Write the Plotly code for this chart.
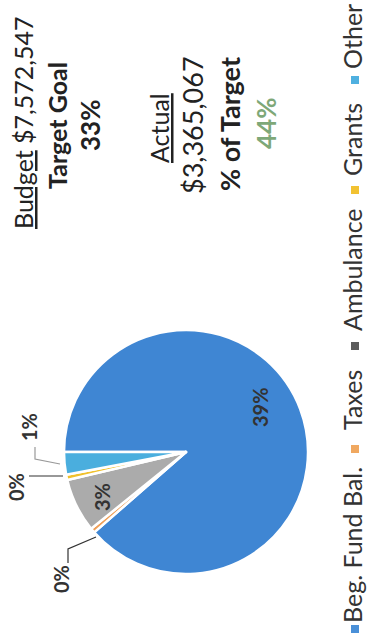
import plotly.graph_objects as go

# ---- data ----
categories = ["Beg. Fund Bal.", "Taxes", "Ambulance", "Grants", "Other"]
actual_values = [2980000, 21000, 240000, 24000, 100067]
budget_total = 7572547
actual_total = 3365067
target_goal_pct = 33
slice_colors = ["#3f86d3", "#ef9f58", "#ababab", "#f0c12c", "#4aaede"]
legend_colors = ["#4a90d8", "#f0a860", "#5c5c5c", "#f2c232", "#4fb0e0"]

W, H = 369, 634
FONT = "Lato"


def px(x):
    return x / W


def py(y):
    return 1 - y / H


pct_labels = [f"{round(v / budget_total * 100)}%" for v in actual_values]
pct_of_target = round(actual_total / budget_total * 100)

fig = go.Figure()
cx, cy, r = 186, 452, 122
fig.add_trace(go.Pie(
    labels=categories,
    values=actual_values,
    sort=False,
    direction="clockwise",
    rotation=270,
    textinfo="none",
    hoverinfo="label+value",
    marker=dict(colors=slice_colors, line=dict(color="white", width=2.5)),
    domain=dict(x=[px(cx - r), px(cx + r)], y=[py(cy + r), py(cy - r)]),
    showlegend=False,
))

ann = []


def text(x, y, s, size, color="#222", bold=False, xa="center", ya="middle"):
    if bold:
        s = f"<b>{s}</b>"
    ann.append(dict(x=px(x), y=py(y), xref="paper", yref="paper", text=s,
                    showarrow=False, textangle=-90, xanchor=xa, yanchor=ya,
                    font=dict(family=FONT, size=size, color=color)))


# header block
text(23, 123, f"<u>Budget</u> ${budget_total:,}", 25)
text(57, 126, "Target Goal", 25, bold=True)
text(90, 126, f"{target_goal_pct}%", 26, bold=True)
text(159, 128, "<u>Actual</u>", 25)
text(192, 125, f"${actual_total:,}", 27)
text(229, 124, "% of Target", 27, bold=True)
text(266, 124, f"{pct_of_target}%", 26, color="#7ea878", bold=True)

# pie labels
label_pos = [(260, 407), (61, 579), (102, 497), (16, 487), (29, 427)]
for (x, y), lab in zip(label_pos, pct_labels):
    text(x, y, lab, 20, color="#333", bold=True)

shapes = []


def seg(pts, color="#333", width=1.2):
    path = "M " + " L ".join(f"{px(a)},{py(b)}" for a, b in pts)
    shapes.append(dict(type="path", path=path, xref="paper", yref="paper",
                       line=dict(color=color, width=width)))


seg([(29, 476), (63, 476)])
seg([(35, 447), (35, 459), (60, 464)], color="#999")
seg([(68, 563), (68, 549), (96, 537)])

# legend (rotated)
legend_sq_y = [629, 449, 346, 190, 80]
legend_txt_y = [545, 400, 270, 140, 37]
for name, col, sy, ty in zip(categories, legend_colors, legend_sq_y, legend_txt_y):
    shapes.append(dict(type="rect", xref="paper", yref="paper",
                       x0=px(351), x1=px(359), y0=py(sy + 4), y1=py(sy - 4),
                       fillcolor=col, line=dict(width=0)))
    text(352, ty, name, 25, color="#333")

fig.update_layout(
    width=W, height=H,
    margin=dict(l=0, r=0, t=0, b=0),
    paper_bgcolor="white", plot_bgcolor="white",
    annotations=ann, shapes=shapes,
)
fig.write_html("out.html",
               config={"displayModeBar": False},
               post_script="document.body.style.margin='0';document.body.style.overflow='hidden';")
